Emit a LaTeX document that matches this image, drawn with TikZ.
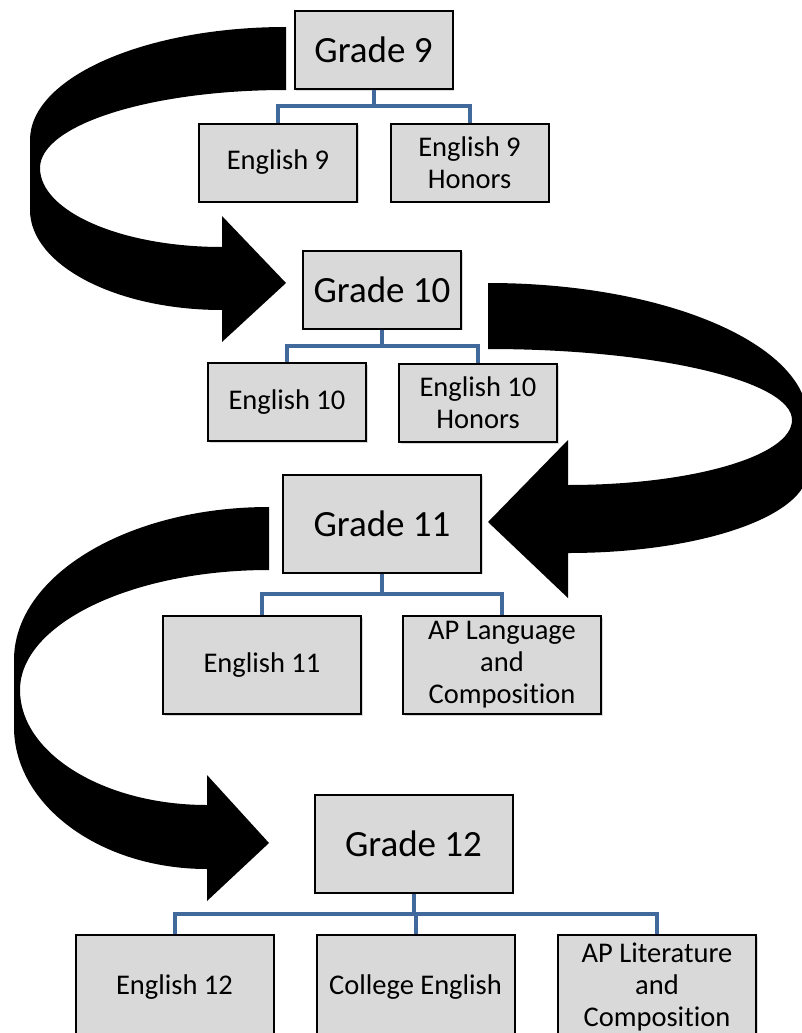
\documentclass[tikz,border=0pt]{standalone}
\usepackage{fontspec}
\setmainfont{Carlito}[Ligatures=CommonOff]
\usetikzlibrary{calc,shadows}
\definecolor{boxgray}{RGB}{217,217,217}
\definecolor{linkblue}{RGB}{65,105,155}

\begin{document}
\begin{tikzpicture}[x=1pt,y=-1pt,
		grade/.style={rectangle,draw=black,line width=2pt,fill=boxgray,align=center,inner sep=2pt,
			font=\fontsize{37}{44}\selectfont,
			drop shadow={shadow xshift=1.5pt,shadow yshift=-1.5pt,opacity=.3}},
		course/.style={grade,font=\fontsize{28.5}{32}\selectfont},
		small/.style={minimum width=158pt,minimum height=78pt},
		large/.style={minimum width=198pt,minimum height=98pt},
		tall/.style={minimum width=198pt,minimum height=104pt},
		branch/.style={draw=linkblue,line width=4pt,
			to path={(\tikztostart.south) |- ($(\tikztostart.south)!.5!(\tikztotarget.north)$) -| (\tikztotarget.north)}},
		turn/.style={fill=black}]
		\useasboundingbox (0,0) rectangle (801,1033);

		% big curved arrows
		\fill[turn] (286,27) .. controls (144.6,27) and (30,77.6) .. (30,140) -- (30,210)
			.. controls (30,265) and (116,310) .. (222,310) -- (222,342) -- (286,283) -- (222,216) -- (222,247)
			.. controls (121.5,247) and (40,211.6) .. (40,168) .. controls (40,125) and (150,90) .. (286,90) -- cycle;
		\fill[turn] (488,283) .. controls (665,283) and (808,344) .. (808,420) -- (808,470)
			.. controls (808,516) and (701,553) .. (568,553) -- (568,598) -- (488,522) -- (568,440) -- (568,485)
			.. controls (692,485) and (792,456) .. (792,420) .. controls (792,381) and (656,349) .. (488,349) -- cycle;
		\fill[turn] (269,507) .. controls (128,507) and (14,575.5) .. (14,660) -- (14,727)
			.. controls (14,805) and (100,869) .. (207,869) -- (207,901) -- (269,843) -- (207,775) -- (207,805)
			.. controls (104,805) and (20,753.5) .. (20,690) .. controls (20,624) and (131.5,570) .. (269,570) -- cycle;

		\node[grade,small] (g9) at (373.5,50) {Grade 9};
		\node[course,small] (e9) at (278,162.5) {English 9};
		\node[course,small] (e9h) at (469.5,162.5) {English 9\\Honors};

		\node[grade,small] (g10) at (382,289.5) {Grade 10};
		\node[course,small] (e10) at (287,402) {English 10};
		\node[course,small] (e10h) at (478,403) {English 10\\Honors};

		\node[grade,large] (g11) at (382,523.5) {Grade 11};
		\node[course,large] (e11) at (262,665) {English 11};
		\node[course,large] (aplang) at (502,665) {AP Language\\and\\Composition};

		\node[grade,large] (g12) at (413.5,843.5) {Grade 12};
		\node[course,tall] (e12) at (174.5,987) {English 12};
		\node[course,tall] (college) at (415.5,987) {College English};
		\node[course,tall] (aplit) at (657,987) {AP Literature\\and\\Composition};

		\path (g9) edge[branch] (e9) edge[branch] (e9h);
		\path (g10) edge[branch] (e10) edge[branch] (e10h);
		\path (g11) edge[branch] (e11) edge[branch] (aplang);
		\path (g12) edge[branch] (e12) edge[branch] (college) edge[branch] (aplit);
	\end{tikzpicture}
\end{document}
